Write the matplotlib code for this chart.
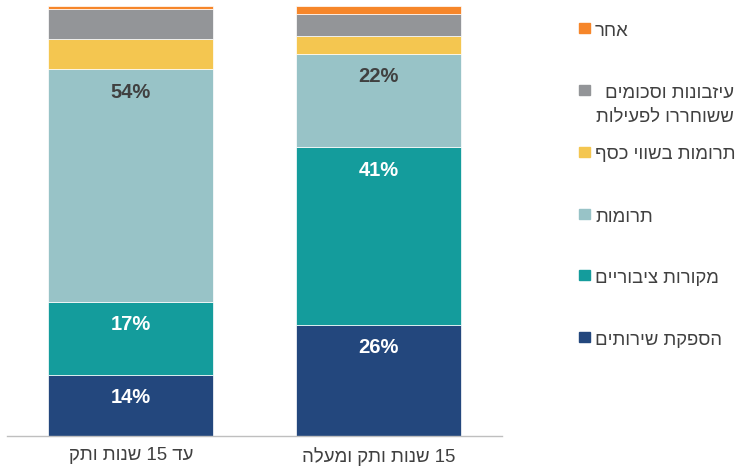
import re

import matplotlib

matplotlib.use("Agg")
import matplotlib.pyplot as plt  # noqa: E402
import numpy as np  # noqa: E402
from matplotlib.patches import Rectangle  # noqa: E402

plt.rcParams["font.family"] = ["Liberation Sans", "DejaVu Sans"]

# data (percent of income), bottom to top
categories = ["עד 15 שנות ותק", "15 שנות ותק ומעלה"]
series_names = [
    "הספקת שירותים",
    "מקורות ציבוריים",
    "תרומות",
    "תרומות בשווי כסף",
    "עיזבונות וסכומים\nששוחררו לפעילות",
    "אחר",
]
services = [14.2, 25.8]
public = [17.0, 41.3]
donations = [54.0, 21.7]
in_kind = [7.0, 4.1]
bequests = [7.1, 5.1]
other = [0.7, 2.0]
labelled = [True, True, True, False, False, False]

colors = ["#23477D", "#149C9C", "#98C3C7", "#F4C650", "#939598", "#F6862A"]
label_colors = ["white", "white", "#404040", None, None, None]


def rtl(s):
    # matplotlib has no bidi: flip the string, keep number runs readable
    return re.sub(r"\d+", lambda m: m.group()[::-1], s[::-1])


values = [services, public, donations, in_kind, bequests, other]

fig = plt.figure(figsize=(7.37, 4.75), dpi=100)
ax = fig.add_axes([0.0095, 0.082, 0.672, 0.906])

x = np.arange(len(categories))
bottom = np.zeros(len(categories))
for vals, col, lab, lc in zip(values, colors, labelled, label_colors):
    vals = np.array(vals)
    ax.bar(x, vals, 0.665, bottom=bottom, color=col, edgecolor="white", linewidth=0.5)
    top = bottom + vals
    if lab:
        for xi, v, t in zip(x, vals, top):
            ax.annotate(f"{v:.0f}%", (xi, t), xytext=(0, -16.5), textcoords="offset points",
                        ha="center", va="center", fontsize=14.5, fontweight="bold", color=lc)
    bottom = top

ax.set_xlim(-0.5, 1.5)
ax.set_ylim(0, 100)
ax.set_yticks([])
ax.set_xticks(x)
ax.set_xticklabels([rtl(c) for c in categories], fontsize=13.4, color="#404040")
ax.tick_params(axis="x", length=0, pad=8)
for side in ["left", "right", "top"]:
    ax.spines[side].set_visible(False)
ax.spines["bottom"].set_color("#BFBFBF")
ax.spines["bottom"].set_linewidth(1)

# legend, drawn by hand to follow the RTL layout (top entry = last series)
W, H = 737, 475
legend_y = [28, 90, 152, 214, 275, 337][::-1]
for name, col, yc in zip(series_names, colors, legend_y):
    fig.add_artist(Rectangle(((579) / W, 1 - (yc + 5) / H), 11 / W, 10 / H,
                             transform=fig.transFigure, color=col))
    lines = [rtl(s) for s in name.split("\n")]
    if len(lines) == 1:
        fig.text(595 / W, 1 - (yc + 3) / H, lines[0], ha="left", va="center",
                 fontsize=13.3, color="#404040")
    else:
        for i, ln in enumerate(lines):
            fig.text(734 / W, 1 - (yc + 3 + 24 * i) / H, ln, ha="right", va="center",
                     fontsize=13.3, color="#404040")

fig.savefig("out.png", dpi=100)
